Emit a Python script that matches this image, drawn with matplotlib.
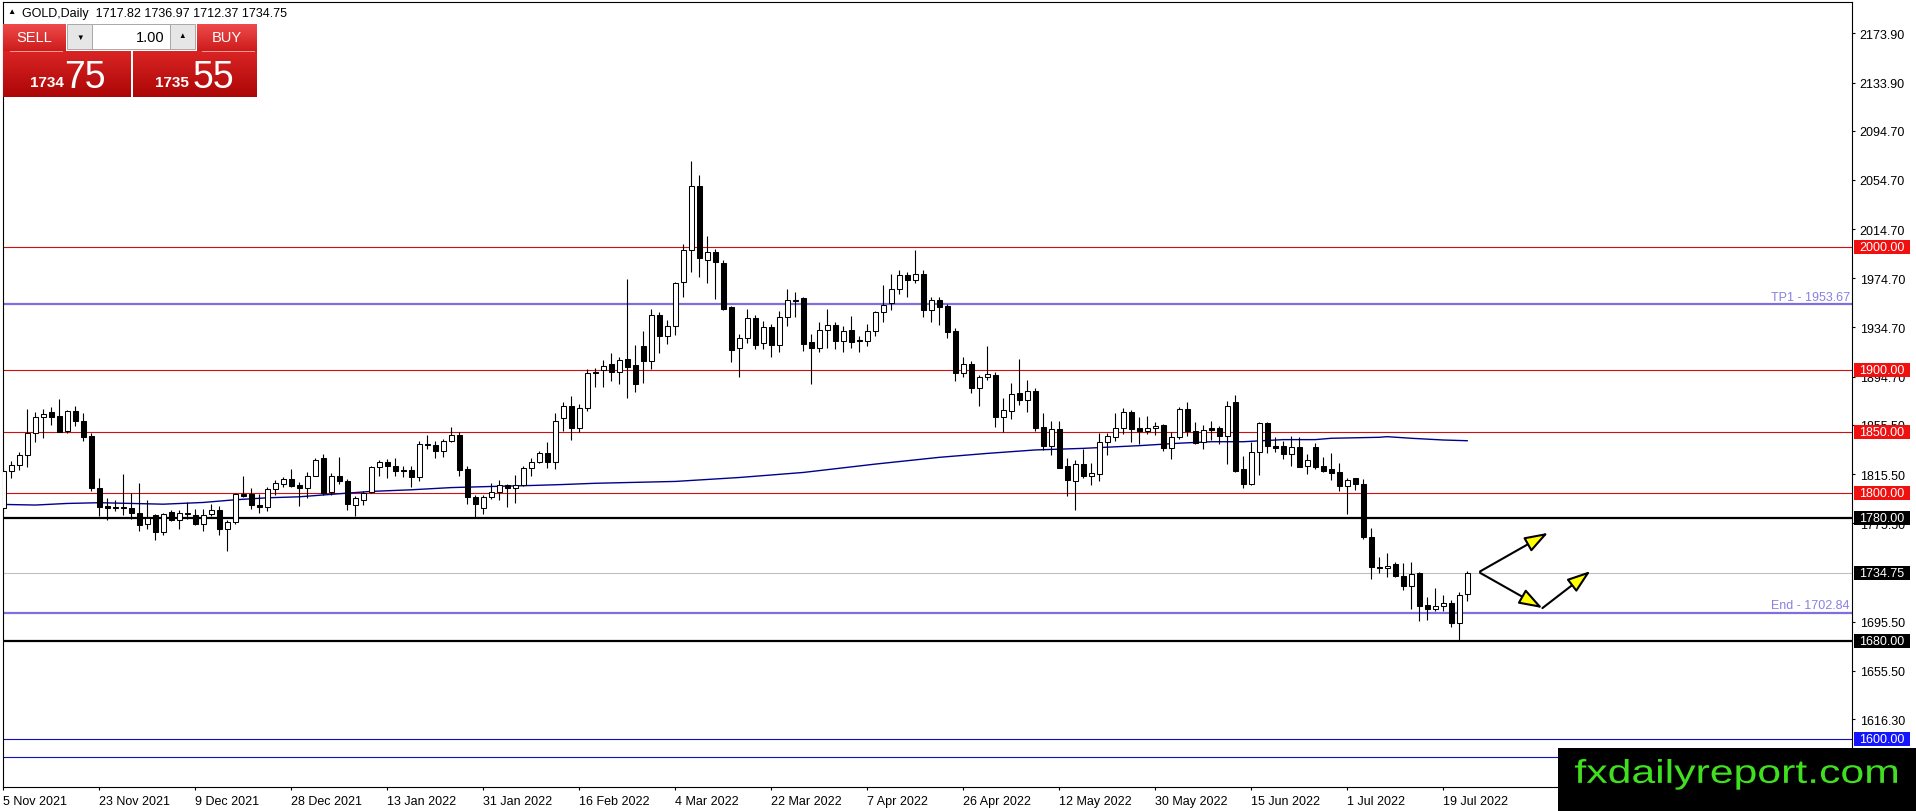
import numpy as np
import matplotlib
matplotlib.use('Agg')
import matplotlib.pyplot as plt
from matplotlib.patches import Rectangle, PathPatch
from matplotlib.textpath import TextPath
from matplotlib.font_manager import FontProperties
from matplotlib.transforms import Affine2D, blended_transform_factory

plt.rcParams['font.family'] = ['Liberation Sans', 'DejaVu Sans']

# daily candles, 5 Nov 2021 .. 22 Jul 2022
opens = [1788.0, 1817.8, 1823.2, 1831.4, 1848.6, 1861.6, 1865.9, 1862.7, 1850.3, 1866.5,
         1858.4, 1846.2, 1804.3, 1789.2, 1788.9, 1788.9, 1788.1, 1784.1, 1774.6, 1781.9,
         1768.4, 1784.6, 1778.4, 1783.8, 1782.4, 1774.6, 1782.7, 1786.5, 1771.1, 1776.2,
         1799.5, 1799.5, 1790.5, 1788.6, 1803.2, 1807.3, 1811.6, 1806.2, 1804.1, 1814.3,
         1828.4, 1800.8, 1813.8, 1810.0, 1790.5, 1794.6, 1800.8, 1821.1, 1825.1, 1821.9,
         1818.6, 1818.6, 1813.0, 1840.0, 1839.2, 1834.1, 1842.2, 1847.3, 1819.7, 1796.8,
         1788.1, 1796.8, 1800.8, 1806.2, 1804.1, 1806.8, 1820.3, 1825.1, 1832.7, 1825.7,
         1861.1, 1870.5, 1852.7, 1868.9, 1898.1, 1900.3, 1905.4, 1898.1, 1909.0, 1904.1,
         1919.6, 1907.6, 1944.8, 1928.0, 1935.6, 1971.5, 1997.8, 2049.7, 1989.9, 1995.9,
         1987.2, 1951.1, 1917.7, 1926.4, 1942.1, 1921.7, 1934.8, 1920.7, 1942.9, 1957.3,
         1958.7, 1922.8, 1918.2, 1932.3, 1936.7, 1923.9, 1932.6, 1924.5, 1923.6, 1931.5,
         1947.0, 1954.9, 1965.8, 1977.7, 1973.1, 1978.5, 1949.2, 1957.3, 1951.9, 1932.1,
         1897.6, 1905.2, 1885.3, 1894.3, 1896.2, 1862.2, 1867.1, 1881.5, 1876.1, 1882.9,
         1853.5, 1838.0, 1851.9, 1821.7, 1810.1, 1823.4, 1814.1, 1815.5, 1841.3, 1845.4,
         1852.7, 1866.3, 1853.0, 1850.8, 1852.7, 1855.4, 1836.4, 1845.4, 1868.5, 1850.8,
         1841.3, 1852.7, 1852.7, 1846.7, 1874.0, 1819.5, 1807.2, 1833.1, 1856.8, 1838.6,
         1838.6, 1832.0, 1837.5, 1821.7, 1837.5, 1821.7, 1819.5, 1816.8, 1805.9, 1811.9,
         1807.8, 1764.2, 1740.3, 1739.1, 1742.4, 1732.8, 1724.1, 1735.0, 1709.1, 1705.9,
         1707.8, 1711.0, 1694.7, 1717.82]
highs = [1820.0, 1826.0, 1833.2, 1868.4, 1866.2, 1868.4, 1869.7, 1876.5, 1867.3, 1870.5,
         1864.9, 1848.6, 1812.4, 1796.2, 1794.3, 1815.7, 1800.0, 1808.1, 1794.6, 1782.7,
         1784.1, 1785.9, 1785.9, 1792.7, 1787.3, 1787.3, 1791.1, 1789.7, 1777.8, 1799.7,
         1814.1, 1804.3, 1799.5, 1804.6, 1810.8, 1813.0, 1819.7, 1808.9, 1817.0, 1828.4,
         1831.9, 1816.5, 1829.7, 1811.1, 1797.6, 1801.4, 1821.9, 1827.3, 1827.8, 1828.4,
         1822.4, 1822.4, 1842.7, 1847.3, 1842.7, 1844.1, 1853.5, 1849.5, 1821.9, 1798.6,
         1798.1, 1808.1, 1810.3, 1807.6, 1814.9, 1822.4, 1828.6, 1834.6, 1841.9, 1865.1,
         1873.8, 1879.2, 1872.4, 1900.8, 1901.4, 1908.2, 1913.6, 1910.3, 1974.2, 1920.7,
         1931.5, 1949.7, 1947.6, 1940.8, 1971.5, 2002.4, 2070.4, 2059.0, 2009.0, 1998.6,
         1989.9, 1952.4, 1929.3, 1949.7, 1944.8, 1939.7, 1937.5, 1947.8, 1966.0, 1963.3,
         1959.2, 1929.3, 1938.9, 1949.7, 1939.4, 1935.6, 1943.8, 1928.0, 1937.2, 1948.4,
         1969.3, 1978.5, 1981.3, 1979.9, 1998.1, 1981.3, 1959.5, 1959.5, 1954.1, 1934.2,
         1911.1, 1907.1, 1896.2, 1919.8, 1898.9, 1877.4, 1889.7, 1909.2, 1892.1, 1885.6,
         1865.2, 1858.4, 1858.4, 1828.3, 1826.9, 1835.9, 1824.2, 1848.9, 1848.9, 1865.2,
         1869.3, 1867.7, 1862.2, 1863.0, 1857.6, 1856.3, 1849.5, 1869.8, 1874.0, 1858.2,
         1855.4, 1859.0, 1854.9, 1875.3, 1879.4, 1830.4, 1841.3, 1857.6, 1857.6, 1845.4,
         1842.6, 1846.7, 1845.4, 1831.7, 1840.7, 1829.0, 1832.3, 1824.4, 1811.9, 1812.7,
         1811.3, 1771.8, 1747.8, 1751.4, 1743.7, 1743.2, 1743.7, 1735.8, 1715.9, 1722.8,
         1717.3, 1713.2, 1719.2, 1736.97]
lows = [1784.0, 1812.2, 1818.4, 1821.6, 1841.9, 1844.6, 1855.7, 1849.5, 1848.6, 1854.3,
        1842.2, 1801.4, 1781.6, 1777.8, 1785.1, 1781.9, 1778.9, 1768.9, 1771.1, 1761.6,
        1765.7, 1777.0, 1771.1, 1779.2, 1773.8, 1769.2, 1781.4, 1765.7, 1752.7, 1775.1,
        1796.8, 1787.3, 1784.1, 1785.1, 1798.6, 1804.9, 1804.6, 1789.5, 1795.9, 1813.8,
        1798.6, 1798.6, 1807.6, 1785.9, 1781.4, 1790.0, 1800.3, 1814.3, 1812.2, 1814.3,
        1813.2, 1804.9, 1809.5, 1835.9, 1828.4, 1829.2, 1841.4, 1814.3, 1791.1, 1779.7,
        1783.0, 1795.4, 1794.1, 1788.4, 1791.9, 1805.7, 1814.3, 1824.6, 1820.8, 1819.7,
        1850.8, 1843.5, 1849.5, 1867.0, 1885.9, 1886.4, 1891.0, 1889.1, 1877.7, 1882.6,
        1889.9, 1900.8, 1913.6, 1921.5, 1928.8, 1959.8, 1980.2, 1975.5, 1970.7, 1957.9,
        1949.2, 1906.3, 1894.6, 1922.0, 1917.1, 1917.1, 1910.3, 1914.9, 1936.1, 1942.9,
        1915.5, 1889.1, 1914.9, 1917.9, 1917.1, 1914.9, 1917.7, 1914.4, 1919.8, 1927.4,
        1939.4, 1949.2, 1962.2, 1959.5, 1970.9, 1942.9, 1938.9, 1936.4, 1926.1, 1890.8,
        1894.8, 1881.3, 1871.2, 1891.6, 1854.1, 1849.5, 1860.3, 1871.7, 1865.8, 1850.8,
        1835.1, 1831.3, 1820.1, 1797.8, 1786.4, 1812.0, 1806.5, 1810.1, 1830.9, 1842.4,
        1848.1, 1841.8, 1839.9, 1848.1, 1847.6, 1834.5, 1827.7, 1844.0, 1846.7, 1839.9,
        1835.8, 1843.5, 1839.9, 1823.6, 1816.8, 1804.0, 1806.7, 1814.6, 1832.3, 1833.1,
        1827.7, 1822.2, 1821.0, 1815.4, 1819.5, 1817.3, 1810.8, 1801.8, 1782.7, 1802.6,
        1762.3, 1730.4, 1735.0, 1731.7, 1731.5, 1721.4, 1705.6, 1696.3, 1696.9, 1704.5,
        1704.2, 1690.9, 1680.0, 1712.37]
closes = [1817.8, 1823.2, 1831.4, 1848.6, 1861.6, 1864.3, 1862.2, 1850.0, 1866.5, 1858.4,
          1845.4, 1804.1, 1788.6, 1787.8, 1787.8, 1787.8, 1784.1, 1773.8, 1780.0, 1768.4,
          1783.0, 1777.8, 1783.8, 1782.7, 1774.6, 1781.9, 1785.9, 1770.5, 1776.5, 1799.2,
          1797.3, 1790.0, 1788.6, 1803.5, 1808.1, 1811.6, 1805.4, 1804.1, 1814.3, 1827.3,
          1800.3, 1813.8, 1809.7, 1790.8, 1795.9, 1800.3, 1821.1, 1825.7, 1821.9, 1817.8,
          1817.8, 1813.0, 1840.0, 1839.2, 1834.1, 1842.7, 1847.3, 1819.2, 1796.8, 1791.1,
          1796.8, 1800.8, 1806.2, 1804.1, 1806.8, 1820.3, 1825.1, 1832.7, 1825.7, 1858.4,
          1870.5, 1852.7, 1868.9, 1897.3, 1897.3, 1903.5, 1898.1, 1908.2, 1902.7, 1889.1,
          1907.6, 1944.8, 1928.0, 1935.6, 1970.7, 1997.8, 2049.7, 1991.0, 1995.9, 1987.8,
          1949.7, 1916.6, 1926.4, 1942.1, 1920.7, 1934.8, 1920.7, 1942.9, 1956.8, 1956.5,
          1921.5, 1918.2, 1932.3, 1936.7, 1923.9, 1931.5, 1923.1, 1923.6, 1931.5, 1947.0,
          1953.0, 1965.8, 1977.7, 1973.1, 1978.0, 1949.2, 1957.3, 1951.4, 1930.7, 1897.6,
          1904.9, 1885.3, 1894.3, 1896.7, 1862.2, 1867.7, 1880.7, 1876.1, 1882.9, 1853.0,
          1838.0, 1851.9, 1820.7, 1810.9, 1823.4, 1814.1, 1816.0, 1841.3, 1846.2, 1852.7,
          1866.3, 1852.2, 1850.8, 1852.7, 1854.3, 1836.4, 1845.4, 1868.5, 1850.8, 1840.7,
          1851.6, 1851.6, 1846.7, 1870.7, 1817.8, 1807.2, 1833.7, 1856.8, 1838.6, 1836.9,
          1832.0, 1837.2, 1821.4, 1826.8, 1821.4, 1818.1, 1816.2, 1805.9, 1810.5, 1807.8,
          1764.2, 1739.7, 1738.9, 1741.0, 1732.3, 1724.7, 1734.2, 1707.8, 1705.9, 1707.8,
          1710.5, 1694.7, 1717.0, 1734.75]

# moving average line, read at a few bars
ma_bar = [0, 4, 8, 12, 16, 20, 25, 29, 33, 37, 42, 46, 51, 56, 61, 66, 70, 74, 84, 92,
          100, 109, 117, 123, 129, 135, 142, 147, 151, 155, 160, 164, 166, 172, 173, 176, 180, 183]
ma_val = [1790.8, 1790.3, 1791.6, 1792.2, 1791.6, 1791.0, 1792.4, 1794.6, 1796.2, 1797.0,
          1799.5, 1801.4, 1802.7, 1804.5, 1805.4, 1806.2, 1807.0, 1808.0, 1809.5, 1812.7,
          1816.8, 1823.6, 1829.1, 1832.3, 1835.1, 1836.4, 1838.6, 1840.6, 1841.8, 1841.8,
          1843.5, 1843.5, 1844.6, 1845.4, 1845.9, 1844.6, 1843.2, 1842.6]

date_labels = ['5 Nov 2021', '23 Nov 2021', '9 Dec 2021', '28 Dec 2021', '13 Jan 2022',
               '31 Jan 2022', '16 Feb 2022', '4 Mar 2022', '22 Mar 2022', '7 Apr 2022',
               '26 Apr 2022', '12 May 2022', '30 May 2022', '15 Jun 2022', '1 Jul 2022',
               '19 Jul 2022']
date_bars = list(range(0, 181, 12))
price_ticks = [2173.9, 2133.9, 2094.7, 2054.7, 2014.7, 1974.7, 1934.7, 1894.7, 1855.5,
               1815.5, 1775.5, 1695.5, 1655.5, 1616.3]

red_levels = [2000, 1900, 1850, 1800]
black_levels = [1780, 1680]
blue_levels = [1600, 1585.4]
tp_levels = [('TP1', 1953.67), ('End', 1702.84)]
bid = 1734.75

# projected path arrows (bar, price)
arrow_legs = [((184.6, 1736.3), (193.1, 1767.7)),
              ((184.6, 1735.2), (192.4, 1706.5)),
              ((192.4, 1706.5), (198.4, 1736.6))]

W, H = 1916, 812
fig = plt.figure(figsize=(W / 100, H / 100), dpi=100)
fig.patch.set_facecolor('white')
ax = fig.add_axes([3 / W, 24 / H, 1849 / W, 785 / H])

o = np.array(opens); hi = np.array(highs); lo = np.array(lows); c = np.array(closes)
x = np.arange(len(o))
up = c >= o
ax.vlines(x, lo, hi, color='black', lw=0.8, zorder=3)
ax.bar(x, np.abs(c - o), bottom=np.minimum(o, c), width=0.62,
       color=['white' if u else 'black' for u in up], edgecolor='black',
       linewidth=0.75, zorder=4)

ax.plot(ma_bar, ma_val, color='#00008c', lw=1.0, zorder=2.6)

for v in red_levels:
    ax.axhline(v, color='#d01010', lw=0.8, zorder=2)
for v in black_levels:
    ax.axhline(v, color='black', lw=1.6, zorder=2)
for v in blue_levels:
    ax.axhline(v, color='#1010c0', lw=0.8, zorder=2)
ax.axhline(bid, color='#c0c0c0', lw=0.8, zorder=2)

bt = blended_transform_factory(ax.transAxes, ax.transData)
for name, v in tp_levels:
    ax.axhline(v, color='#7d6fe0', lw=1.6, zorder=2)
    ax.text(0.9989, v + 1.2, f'{name} - {v:.2f}', transform=bt, ha='right', va='bottom',
            color='#8a80e2', fontsize=9, zorder=5)

for (x0, y0), (x1, y1) in arrow_legs:
    ax.annotate('', xy=(x1, y1), xytext=(x0, y0),
                arrowprops=dict(arrowstyle='-|>,head_length=1.1,head_width=0.38',
                                mutation_scale=13, fc='#ffff00', ec='black', lw=1.5,
                                shrinkA=0, shrinkB=0), zorder=6)

tag_x0 = (1854 - 3) / 1849
tag_w = 56 / 1849


def price_tag(v, fc):
    ax.add_patch(Rectangle((tag_x0, v - 5.6), tag_w, 11.2, transform=bt, fc=fc, ec='none',
                           clip_on=False, zorder=10))
    ax.text(tag_x0 + tag_w / 2, v, f'{v:.2f}', transform=bt, ha='center', va='center',
            color='white', fontsize=9, zorder=11, clip_on=False)


for v in red_levels:
    price_tag(v, '#f01010')
for v in black_levels:
    price_tag(v, 'black')
price_tag(bid, 'black')
price_tag(blue_levels[0], '#1414ff')

ax.set_xlim(-0.04, 231.1)
ax.set_ylim(1561, 2199.4)
ax.set_xticks(date_bars)
ax.set_xticklabels(date_labels, ha='left', fontsize=9)
ax.yaxis.tick_right()
ax.set_yticks(price_ticks)
ax.set_yticklabels([f'{v:.2f}' for v in price_ticks], fontsize=9)
ax.tick_params(axis='both', direction='out', length=2.5, width=0.8, pad=3, colors='black')
for s in ax.spines.values():
    s.set_linewidth(0.8)

# overlay in pixel coordinates for the terminal widgets and logo
ov = fig.add_axes([0, 0, 1, 1])
ov.axis('off')


def grad(x0, y0, x1, y1, top, bot):
    g = np.linspace(0, 1, 32)[:, None, None]
    img = (1 - g) * np.array(top)[None, None, :] + g * np.array(bot)[None, None, :]
    ov.imshow(img / 255, extent=(x0, x1, y1, y0), aspect='auto', interpolation='bilinear',
              zorder=1)


ov.text(11, 13, '\u25b2', fontsize=6, ha='center', va='center')
ov.text(22, 13.5, f'GOLD,Daily  {opens[-1]:.2f} {highs[-1]:.2f} {lows[-1]:.2f} {closes[-1]:.2f}',
        fontsize=9, ha='left', va='center')

grad(3, 25, 66, 52, (238, 74, 74), (206, 28, 28))
grad(197, 25, 257, 52, (238, 74, 74), (206, 28, 28))
grad(3, 52, 131, 98, (218, 36, 36), (172, 6, 6))
grad(133, 52, 257, 98, (218, 36, 36), (172, 6, 6))
ov.plot([10, 62], [51.5, 51.5], color='#f0b0b0', lw=0.6, zorder=2)
ov.plot([202, 254], [51.5, 51.5], color='#f0b0b0', lw=0.6, zorder=2)
ov.add_patch(Rectangle((67, 25), 25, 25, fc='#e6e6e6', ec='#a8a8a8', lw=0.7, zorder=2))
ov.add_patch(Rectangle((92, 25), 78, 25, fc='white', ec='#a8a8a8', lw=0.7, zorder=2))
ov.add_patch(Rectangle((170, 25), 25, 25, fc='#e6e6e6', ec='#a8a8a8', lw=0.7, zorder=2))
ov.text(80, 38, '\u25bc', fontsize=5.5, ha='center', va='center', zorder=3)
ov.text(182, 37, '\u25b2', fontsize=5.5, ha='center', va='center', zorder=3)
ov.text(165, 38, '1.00', fontsize=10.5, ha='right', va='center', zorder=3)
ov.text(34, 38.5, 'SELL', fontsize=10.5, color='white', ha='center', va='center', zorder=3)
ov.text(227, 38.5, 'BUY', fontsize=10.5, color='white', ha='center', va='center', zorder=3)
ov.text(30, 87, '1734', fontsize=11, fontweight='bold', color='white', ha='left',
        va='baseline', zorder=3)
ov.text(64, 87.5, '75', fontsize=27, color='white', ha='left', va='baseline', zorder=3)
ov.text(155, 87, '1735', fontsize=11, fontweight='bold', color='white', ha='left',
        va='baseline', zorder=3)
ov.text(193, 87.5, '55', fontsize=27, color='white', ha='left', va='baseline', zorder=3)

ov.add_patch(Rectangle((1558, 749), W - 1558, H - 749, fc='black', ec='none', zorder=5))
tp = TextPath((0, 0), 'fxdailyreport.com', size=1, prop=FontProperties(family='Liberation Sans'))
bb = tp.get_extents()
tr = Affine2D().translate(-bb.x0, -bb.y1).scale(322 / bb.width, -30.7 / bb.height).translate(1575, 760)
ov.add_patch(PathPatch(tr.transform_path(tp), fc='#40e020', ec='none', zorder=6))

ov.set_xlim(0, W)
ov.set_ylim(H, 0)

fig.savefig('out.png', dpi=100)
